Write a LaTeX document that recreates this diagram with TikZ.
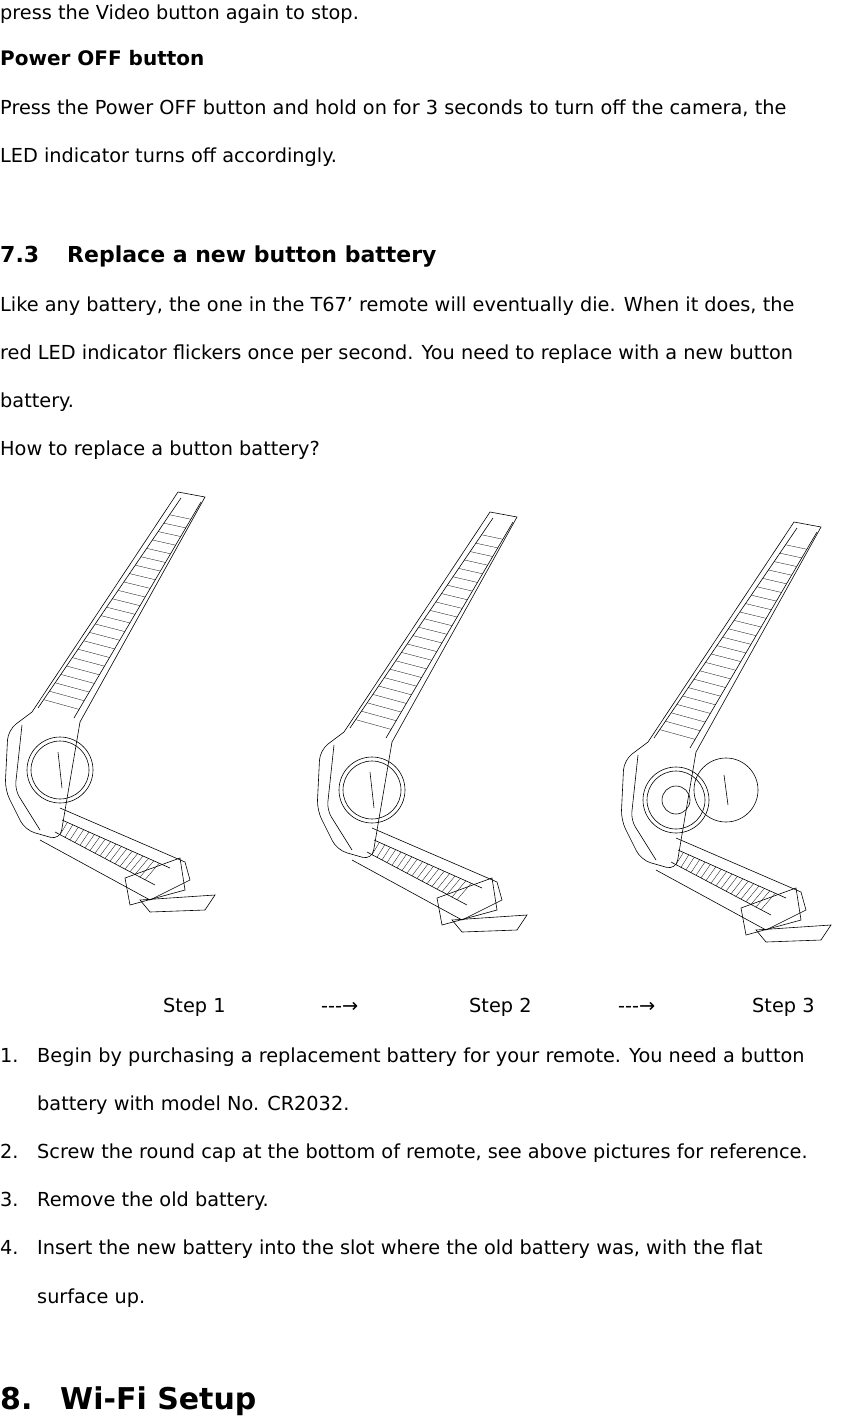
\documentclass[tikz,border=0pt]{standalone}
\usetikzlibrary{calc}
\usepackage{fontspec}
\setmainfont{DejaVu Sans}
\begin{document}
\begin{tikzpicture}[x=1pt,y=-1pt,
  txt/.style={anchor=base west,inner sep=0pt,font=\fontsize{19.3}{19}\selectfont},
  hd/.style={anchor=base west,inner sep=0pt,font=\bfseries\fontsize{22}{22}\selectfont},
  ln/.style={line width=0.6pt}]
\useasboundingbox (0,0) rectangle (842,1417);
\node[txt] (l1) at (0,19) {press the Video button again to stop.};
\node[txt,font=\bfseries\fontsize{20}{20}\selectfont] (l2) at (0,65) {Power OFF button};
\node[txt] (l3) at (0,114) {Press the Power OFF button and hold on for 3 seconds to turn off the camera, the};
\node[txt] (l4) at (0,162) {LED indicator turns off accordingly.};
\node[hd] (h1) at (0,262) {7.3};
\node[hd] (h1b) at (67,262) {Replace a new button battery};
\node[txt] (l5) at (0,311) {Like any battery, the one in the T67’ remote will eventually die. When it does, the};
\node[txt] (l6) at (0,359) {red LED indicator flickers once per second. You need to replace with a new button};
\node[txt] (l7) at (0,407) {battery.};
\node[txt] (l8) at (0,455) {How to replace a button battery?};
\newcommand{\strap}[2]{%
\begin{scope}[shift={(#1,#2)}]
 \draw[ln] (32,712) -- (178,492) -- (205,497) -- (80,722);
 \draw[ln] (38,708) -- (181,498);
 \draw[ln] (74,718) -- (201,502);
 \foreach \t in {0.04,0.08,...,0.96} \draw[line width=0.3pt] ($(38,708)!\t!(181,498)$) -- ($(74,718)!\t!(201,502)$);
 \draw[ln,rounded corners=10pt] (32,712) -- (8,730) -- (5,790) -- (25,830) -- (60,840) -- (80,722);
 \draw[ln,rounded corners=8pt] (22,725) -- (15,790) -- (40,830);
 \draw[ln] (60,770) circle (33);
 \draw[ln] (60,770) circle (29);
 \draw[ln] (60,808) -- (185,862) -- (190,880) -- (150,900) -- (40,840);
 \draw[ln] (62,820) -- (170,868);
 \draw[ln] (55,832) -- (155,885);
 \foreach \t in {0.05,0.1,...,0.95} \draw[line width=0.3pt] ($(62,820)!\t!(170,868)$) -- ($(55,832)!\t!(155,885)$);
 \draw[ln] (125,878) -- (180,858) -- (185,890) -- (130,905) -- cycle;
 \draw[ln] (140,900) -- (215,895) -- (205,910) -- (150,912) -- cycle;
\end{scope}}
\strap{0}{0}
\draw[ln] (58,752) -- (62,788);
\strap{312}{20}
\draw[ln] (370,772) -- (374,808);
\strap{616}{30}
\draw[ln] (676,800) circle (14);
\draw[ln] (726,790) circle (32);
\draw[ln] (724,775) -- (728,805);
\node[txt] (s1) at (163,1012) {Step 1};
\node[txt] (a1) at (321,1012) {-{}-{}-→};
\node[txt] (s2) at (469,1012) {Step 2};
\node[txt] (a2) at (618,1012) {-{}-{}-→};
\node[txt] (s3) at (752,1012) {Step 3};
\node[txt] (n1) at (0,1062) {1.};
\node[txt] (t1) at (37,1062) {Begin by purchasing a replacement battery for your remote. You need a button};
\node[txt] (t1b) at (37,1110) {battery with model No. CR2032.};
\node[txt] (n2) at (0,1158) {2.};
\node[txt] (t2) at (37,1158) {Screw the round cap at the bottom of remote, see above pictures for reference.};
\node[txt] (n3) at (0,1206) {3.};
\node[txt] (t3) at (37,1206) {Remove the old battery.};
\node[txt] (n4) at (0,1254) {4.};
\node[txt] (t4) at (37,1254) {Insert the new battery into the slot where the old battery was, with the flat};
\node[txt] (t4b) at (37,1303) {surface up.};
\node[anchor=base west,inner sep=0pt,font=\bfseries\fontsize{30}{30}\selectfont] (h2) at (0,1409) {8.};
\node[anchor=base west,inner sep=0pt,font=\bfseries\fontsize{30}{30}\selectfont] (h2b) at (60,1409) {Wi-Fi Setup};
\end{tikzpicture}
\end{document}
